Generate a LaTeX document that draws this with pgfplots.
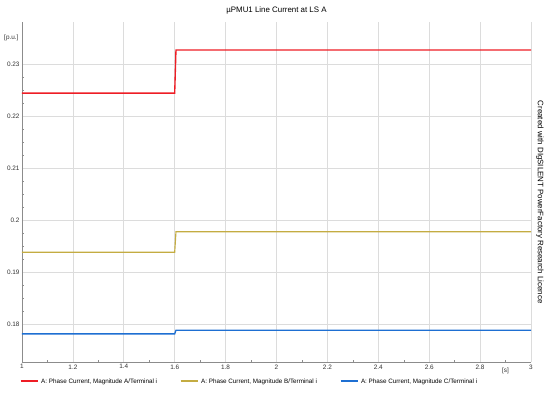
\documentclass[border=0pt]{standalone}
\usepackage{pgfplots}
\pgfplotsset{compat=1.18}
\usepackage{fontspec}
\setmainfont{Liberation Sans}
\definecolor{cRed}{HTML}{EE1D25}
\definecolor{cYel}{HTML}{C4AC42}
\definecolor{cBlu}{HTML}{1E6FD2}
\definecolor{cGrid}{HTML}{DCDCDC}
\definecolor{cAxis}{HTML}{8C8C8C}
\newcommand{\samp}[1]{\textcolor{#1}{\rule[1.6pt]{17pt}{1.3pt}}\hspace{3.5pt}}
\begin{document}
\begin{tikzpicture}[x=1pt,y=1pt]
\useasboundingbox (-22,-30) rectangle (528,362);
\begin{axis}[
  at={(0,0)}, anchor=south west,
  scale only axis, width=509pt, height=340pt,
  xmin=1, xmax=3, ymin=0.17269, ymax=0.23808,
  axis x line*=bottom, axis y line*=left,
  axis line style={cAxis, line width=0.8pt},
  xtick={1,1.2,...,3.01}, xticklabels={1,1.2,1.4,1.6,1.8,2,2.2,2.4,2.6,2.8,3},
  ytick={0.18,0.19,0.20,0.21,0.22,0.23},
  yticklabels={0.18,0.19,0.2,0.21,0.22,0.23},
  minor x tick num=1, minor y tick num=3,
  tick align=inside,
  major tick length=0pt, minor tick length=2.5pt,
  tick style={cAxis, line width=0.5pt},
  grid=major, major grid style={cGrid, line width=0.6pt},
  /pgf/number format/assume math mode=true,
  tick label style={font=\fontsize{6.4}{7}\selectfont, text=black!80},
  xticklabel style={yshift=1pt},
  yticklabel style={xshift=1pt},
  legend columns=3,
  legend image code/.code={},
  legend style={at={(rel axis cs:0,0)}, anchor=north west, xshift=-3.5pt, yshift=-14.5pt,
    draw=none, fill=none, font=\fontsize{6.3}{7}\selectfont, inner sep=0pt,
    /tikz/every even column/.append style={column sep=19.5pt}},
  clip=false,
]
\addplot[color=cRed, line width=1.35pt] coordinates {(1,0.2244) (1.600,0.2244) (1.605,0.2327) (3,0.2327)};
\addlegendentry{\samp{cRed}A: Phase Current, Magnitude A/Terminal i}
\addplot[color=cYel, line width=1.15pt] coordinates {(1,0.1938) (1.600,0.1938) (1.605,0.19775) (3,0.19775)};
\addlegendentry{\samp{cYel}A: Phase Current, Magnitude B/Terminal i}
\addplot[color=cBlu, line width=1.35pt] coordinates {(1,0.1781) (1.600,0.1781) (1.605,0.1788) (3,0.1788)};
\addlegendentry{\samp{cBlu}A: Phase Current, Magnitude C/Terminal i}
\node[font=\fontsize{6.4}{7}\selectfont, text=black!80, anchor=east] at (axis cs:1,0.235) {[p.u.]};
\node[font=\fontsize{6.4}{7}\selectfont, text=black!80, anchor=north] at (axis cs:2.9,0.17269) [yshift=-2.5pt] {[s]};
\node[font=\fontsize{7.9}{9}\selectfont] at (rel axis cs:0.5,1) [yshift=12pt] {µPMU1 Line Current at LS A};
\node[font=\fontsize{7.9}{9}\selectfont, rotate=-90] at (rel axis cs:1.0177,0.47) {Created with DIgSILENT PowerFactory Research Licence};
\end{axis}
\end{tikzpicture}
\end{document}
